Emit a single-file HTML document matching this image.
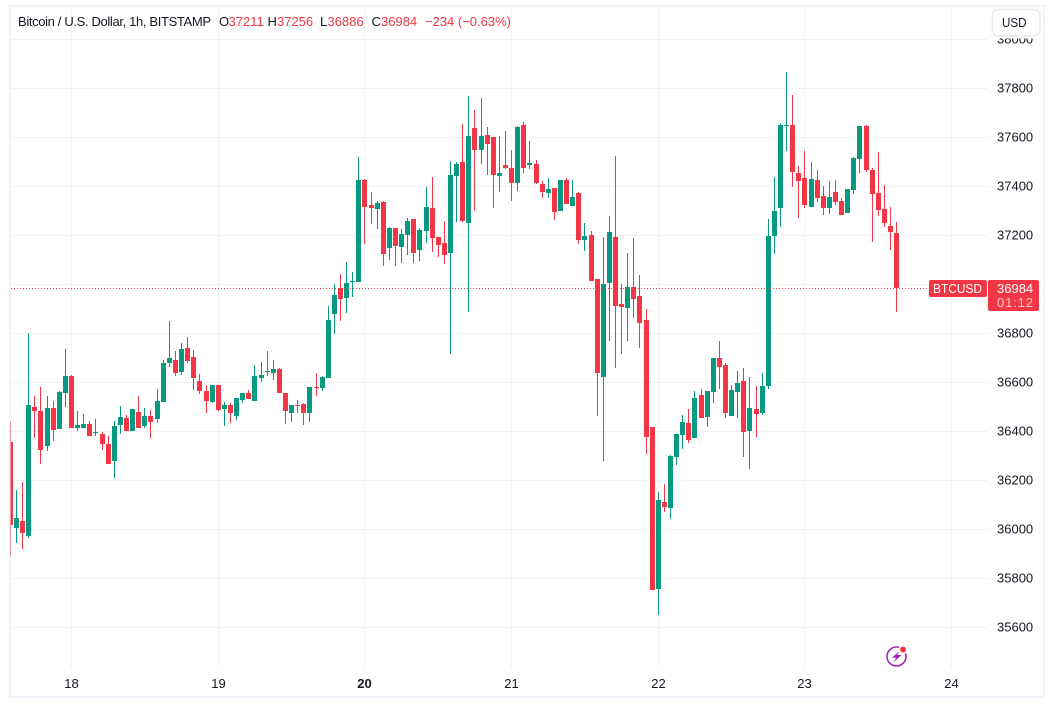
<!DOCTYPE html>
<html lang="en">
<head>
<meta charset="utf-8">
<title>Bitcoin / U.S. Dollar chart</title>
<style>
html,body{margin:0;padding:0;background:#fff;width:1054px;height:710px;overflow:hidden}
svg{display:block;font-family:"Liberation Sans",sans-serif}
</style>
</head>
<body>
<svg id="chart" xmlns="http://www.w3.org/2000/svg" width="1054" height="710" viewBox="0 0 1054 710">
  <defs><clipPath id="pane-clip"><rect x="10.5" y="7" width="977.5" height="661"/></clipPath></defs>
  <rect x="10" y="6" width="1034" height="691" fill="#ffffff" stroke="#f0f3fa" stroke-width="2"/>
  <g id="grid"></g>
  <g id="candles" clip-path="url(#pane-clip)"></g>
  <g id="y-axis" font-size="13" fill="#131722"></g>
  <g id="x-axis" font-size="13" fill="#131722"></g>
  <g id="price-line"></g>

  <g font-size="13">
    <text x="18" y="26" fill="#131722" textLength="193" lengthAdjust="spacing">Bitcoin / U.S. Dollar, 1h, BITSTAMP</text>
    <text x="219" y="26" fill="#131722">O</text>
    <text x="228.5" y="26" fill="#f23645">37211</text>
    <text x="267.5" y="26" fill="#131722">H</text>
    <text x="277" y="26" fill="#f23645">37256</text>
    <text x="320" y="26" fill="#131722">L</text>
    <text x="327.5" y="26" fill="#f23645">36886</text>
    <text x="371.5" y="26" fill="#131722">C</text>
    <text x="381" y="26" fill="#f23645">36984</text>
    <text x="425" y="26" fill="#f23645" textLength="86" lengthAdjust="spacing">−234 (−0.63%)</text>
  </g>

  <g>
    <rect x="990" y="7" width="53" height="31.5" fill="#ffffff"/>
    <rect x="992.5" y="9.5" width="47.5" height="26.5" rx="6" fill="#ffffff" stroke="#e6e9ef" stroke-width="1.5"/>
    <text x="1002" y="27" font-size="13" fill="#131722" textLength="24.5" lengthAdjust="spacingAndGlyphs">USD</text>
  </g>

  <g>
    <circle cx="896.5" cy="656.5" r="9.5" fill="none" stroke="#9c27b0" stroke-width="1.6"/>
    <polygon points="899.5,651 892,657.8 896,657.8 894,662 901.5,655 897,655" fill="#9c27b0"/>
    <circle cx="903" cy="649.5" r="4.5" fill="#ffffff"/>
    <circle cx="903" cy="649.5" r="3" fill="#f23645"/>
  </g>
</svg>
<script>
var opens = [
36357,36006,36034,35973,36499,36483,36340,36495,36410,36557,
36626,36414,36414,36430,36394,36389,36349,36279,36426,36454,
36402,36479,36422,36463,36450,36520,36679,36691,36642,36740,
36703,36605,36565,36520,36589,36491,36508,36463,36528,36557,
36524,36618,36642,36638,36654,36557,36475,36508,36512,36475,
36581,36577,36618,36879,36985,36944,37009,37009,37426,37324,
37307,37336,37148,37230,37152,37201,37266,37140,37218,37312,
37193,37168,37127,37442,37499,37250,37638,37548,37609,37601,
37442,37487,37475,37413,37650,37487,37491,37409,37373,37393,
37299,37426,37320,37373,37181,37201,37021,36622,37005,37193,
36920,36903,36989,36952,36854,36418,35756,36112,36087,36296,
36385,36434,36373,36548,36459,36561,36699,36671,36463,36561,
36605,36402,36491,36475,36585,37197,37312,37646,37650,37454,
37434,37315,37426,37360,37312,37377,37340,37291,37385,37511,
37646,37467,37373,37307,37238,37211];
var highs = [
36442,36161,36193,36801,36544,36581,36544,36524,36565,36736,
36630,36483,36471,36442,36450,36398,36381,36442,36504,36467,
36491,36544,36495,36487,36573,36691,36850,36728,36761,36785,
36732,36634,36589,36589,36589,36520,36516,36536,36557,36569,
36671,36683,36728,36691,36658,36557,36508,36528,36516,36581,
36638,36626,36911,37001,37042,37091,37050,37519,37430,37377,
37340,37340,37234,37230,37226,37270,37266,37230,37397,37438,
37193,37258,37503,37499,37654,37768,37711,37760,37642,37601,
37605,37625,37548,37646,37662,37585,37507,37422,37434,37393,
37426,37434,37426,37377,37250,37218,37021,37193,37279,37523,
37001,37127,37189,37038,36899,36418,36153,36185,36304,36389,
36467,36491,36565,36573,36565,36699,36769,36679,36589,36646,
36658,36622,36585,36638,37266,37438,37658,37866,37772,37483,
37544,37499,37467,37401,37422,37426,37352,37389,37519,37646,
37650,37475,37540,37405,37315,37256];
var lows = [
35891,35945,35920,35965,36373,36267,36320,36361,36410,36499,
36414,36402,36414,36381,36381,36324,36267,36210,36389,36402,
36402,36414,36414,36373,36434,36520,36663,36626,36630,36679,
36569,36553,36475,36516,36483,36422,36434,36446,36516,36532,
36524,36601,36626,36609,36557,36430,36438,36475,36426,36438,
36544,36565,36618,36797,36850,36883,36948,37009,37164,37246,
37226,37074,37099,37074,37087,37119,37087,37095,37168,37132,
37111,37083,36716,37254,37254,36887,37299,37491,37446,37312,
37377,37471,37340,37381,37454,37471,37409,37352,37352,37262,
37299,37328,37320,37164,37136,37013,36463,36279,36769,36658,
36716,36769,36863,36740,36308,35752,35650,36071,36042,36263,
36328,36353,36373,36454,36418,36516,36573,36454,36463,36454,
36296,36247,36377,36467,36573,37123,37234,37544,37397,37270,
37312,37315,37336,37283,37287,37324,37283,37291,37369,37454,
37458,37172,37279,37234,37140,36886];
var closes = [
36018,36047,35985,36508,36483,36324,36495,36406,36561,36626,
36414,36426,36430,36381,36398,36349,36267,36422,36459,36402,
36491,36414,36463,36438,36524,36679,36699,36638,36736,36687,
36618,36565,36524,36589,36487,36508,36475,36536,36557,36532,
36626,36630,36646,36654,36557,36483,36508,36504,36475,36581,
36577,36622,36854,36956,36940,37005,37013,37426,37315,37312,
37332,37123,37230,37156,37205,37258,37127,37222,37315,37189,
37160,37119,37446,37491,37258,37605,37548,37605,37573,37446,
37454,37475,37413,37642,37475,37495,37413,37377,37389,37295,
37426,37328,37356,37181,37197,37013,36638,37001,37214,36911,
36907,36989,36940,36842,36377,35752,36120,36091,36300,36389,
36438,36365,36536,36454,36565,36699,36663,36475,36569,36597,
36398,36495,36471,36585,37197,37299,37650,37650,37458,37422,
37324,37430,37352,37312,37356,37336,37283,37389,37515,37646,
37467,37369,37303,37250,37214,36984];
var priceTicks = [38000,37800,37600,37400,37200,37000,36800,36600,36400,36200,36000,35800,35600];
var dayTicks = ['18','19','20','21','22','23','24'];
var boldDay = '20';
var firstBarHour = -10;
var symbolName = 'BTCUSD';
var countdown = '01:12';

var NS = 'http://www.w3.org/2000/svg';
var UP = '#089981', DOWN = '#f23645', GRID = '#f2f3f5';
var PANE_RIGHT = 988, PANE_TOP = 7, PANE_BOTTOM = 668;

function yScale(price){ return 333.3 + (36800 - price) * 0.245; }
function xScale(hour){ return 71.55 + hour * 6.1115; }
function make(tag, attrs){
  var el = document.createElementNS(NS, tag);
  for (var k in attrs) el.setAttribute(k, attrs[k]);
  return el;
}
var gridG = document.getElementById('grid');
var candleG = document.getElementById('candles');
var priceLineG = document.getElementById('price-line');
var yAxisG = document.getElementById('y-axis');
var xAxisG = document.getElementById('x-axis');

priceTicks.forEach(function(p){
  var y = Math.floor(yScale(p)) + 0.5;
  var line = make('line', {x1: 11, x2: PANE_RIGHT, y1: y, y2: y, stroke: GRID, 'stroke-width': 1});
  
  
  gridG.appendChild(line);
  var label = make('text', {x: 997, y: y + 4});
  
  
  label.textContent = String(p);
  yAxisG.appendChild(label);
});

dayTicks.forEach(function(d, i){
  var x = Math.floor(xScale(i * 24)) + 0.5;
  var line = make('line', {x1: x, x2: x, y1: PANE_TOP, y2: PANE_BOTTOM, stroke: GRID, 'stroke-width': 1});
  
  
  gridG.appendChild(line);
  var label = make('text', {x: x, y: 688, 'text-anchor': 'middle'});
  
  
  if (d === boldDay) label.setAttribute('font-weight', 'bold');
  label.textContent = d;
  xAxisG.appendChild(label);
});

closes.forEach(function(c, i){
  var o = opens[i], h = highs[i], l = lows[i];
  var cx = Math.floor(xScale(firstBarHour + i));
  var color = c >= o ? UP : DOWN;
  var yHigh = Math.round(yScale(h)), yLow = Math.round(yScale(l));
  var yTop = Math.round(yScale(Math.max(o, c))), yBot = Math.round(yScale(Math.min(o, c)));
  var g = make('g', {});
  
  
  var wick = make('rect', {x: cx, y: yHigh, width: 1, height: Math.max(1, yLow - yHigh), fill: color});
  
  
  g.appendChild(wick);
  var body = make('rect', {x: cx - 2, y: yTop, width: 5, height: Math.max(1, yBot - yTop), fill: color});
  
  
  g.appendChild(body);
  candleG.appendChild(g);
});

var last = closes[closes.length - 1];
var lastY = Math.floor(yScale(last));
var dotted = make('line', {x1: 11, x2: 929, y1: lastY + 0.5, y2: lastY + 0.5, stroke: DOWN, 'stroke-width': 1, 'stroke-dasharray': '1 2'});


priceLineG.appendChild(dotted);

var tagBackdrop = make('rect', {x: 989, y: lastY - 14, width: 50, height: 8, fill: '#ffffff'});


priceLineG.appendChild(tagBackdrop);

var symbolTag = make('rect', {x: 929, y: lastY - 8, width: 58, height: 17, rx: 2, fill: DOWN});


priceLineG.appendChild(symbolTag);
var symbolText = make('text', {x: 933, y: lastY + 5, 'font-size': 13, fill: '#ffffff', textLength: 49, lengthAdjust: 'spacingAndGlyphs'});


symbolText.textContent = symbolName;
priceLineG.appendChild(symbolText);

var priceTag = make('rect', {x: 988, y: lastY - 8, width: 51, height: 31, rx: 2, fill: DOWN});


priceLineG.appendChild(priceTag);
var priceText = make('text', {x: 997, y: lastY + 5, 'font-size': 13, fill: '#ffffff'});


priceText.textContent = String(last);
priceLineG.appendChild(priceText);
var countText = make('text', {x: 997, y: lastY + 19, 'font-size': 13, fill: '#ffffff', 'fill-opacity': 0.72, textLength: 36});


countText.textContent = countdown;
priceLineG.appendChild(countText);
</script>
</body>
</html>
